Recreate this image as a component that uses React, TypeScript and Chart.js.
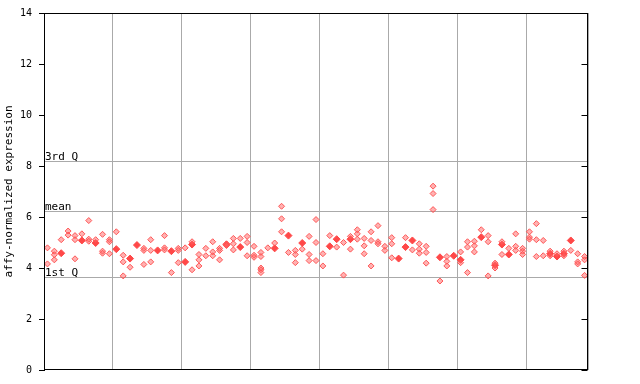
import React, { useEffect, useRef } from 'react';
import { Chart, registerables } from 'chart.js';

Chart.register(...registerables);

const yTicks = [0, 2, 4, 6, 8, 10, 12, 14];
const yTitle = 'affy-normalized expression';
const quartileLabels = ['3rd Q', 'mean', '1st Q'];
const quartileValues = [8.21, 6.22, 3.64];
const columnsPerGroup = 10;

// hollow replicate points per sample column
const replicateValues: number[][] = [
  [4.79, 4.16], [4.66, 4.52, 4.32], [5.11], [5.45, 5.29], [5.27, 5.11, 4.36],
  [5.34], [5.86, 5.13, 5.05], [5.11], [5.32, 4.66, 4.58], [5.11, 5.03, 4.56],
  [5.42], [4.5, 4.24, 3.69], [4.03], [], [4.77, 4.69, 4.14],
  [5.11, 4.69, 4.24], [], [5.27, 4.79, 4.71], [3.82], [4.77, 4.69, 4.21],
  [4.79], [5.03, 3.93], [4.53, 4.32, 4.08], [4.77, 4.48], [5.03, 4.63, 4.48],
  [4.77, 4.69, 4.32], [4.95, 4.88], [5.16, 4.95, 4.71], [5.16], [5.24, 5.0, 4.48],
  [4.85, 4.5, 4.42], [4.61, 4.45, 4.0, 3.93, 3.82], [4.79], [4.98], [6.42, 5.93, 5.42],
  [4.61], [4.69, 4.53, 4.21], [4.74], [5.24, 4.53, 4.29], [5.9, 5.0, 4.29],
  [4.56, 4.08], [5.27], [4.82], [5.0, 3.72], [5.24, 4.74],
  [5.5, 5.34, 5.13], [5.16, 4.87, 4.56], [5.42, 5.08, 4.08], [5.66, 5.03, 4.95], [4.85, 4.69],
  [5.19, 4.95, 4.4], [], [5.19], [4.71], [4.95, 4.74, 4.58],
  [4.85, 4.61, 4.19], [7.21, 6.92, 6.29], [3.49], [4.45, 4.26, 4.08], [],
  [4.63, 4.21], [5.03, 4.82, 3.82], [5.05, 4.87, 4.63], [5.5], [5.27, 5.03, 3.69],
  [4.19, 4.0], [5.03, 4.53], [4.77], [5.34, 4.85, 4.69], [4.77, 4.66, 4.53],
  [5.42, 5.21, 5.13], [5.74, 5.11, 4.45], [5.08, 4.48], [4.66, 4.48], [4.56],
  [4.66, 4.48], [4.69], [4.56, 4.24, 4.16], [4.45, 4.32, 3.71],
];

// solid points per sample column
const highlightValues: (number | null)[] = [
  null, null, 4.58, null, null, 5.08, null, 4.98, null, null,
  4.74, null, 4.37, 4.9, null, null, 4.69, null, 4.66, null,
  4.24, 4.92, null, null, null, null, 4.92, null, 4.82, null,
  null, null, null, 4.77, null, 5.27, null, 4.98, null, null,
  null, 4.85, 5.13, null, 5.13, null, null, null, null, null,
  null, 4.37, 4.82, 5.08, null, null, null, 4.42, null, 4.48,
  4.32, null, null, 5.21, null, 4.11, 4.92, 4.53, null, null,
  null, null, null, 4.56, 4.45, 4.56, 5.08, null, null,
];

const FONT = '"DejaVu Sans Mono", monospace';

export default function App() {
  const ref = useRef<HTMLCanvasElement | null>(null);

  useEffect(() => {
    const n = replicateValues.length;
    const hollow: { x: number; y: number }[] = [];
    replicateValues.forEach((vals, i) => vals.forEach((v) => hollow.push({ x: i, y: v })));
    const filled: { x: number; y: number }[] = [];
    highlightValues.forEach((v, i) => {
      if (v !== null) filled.push({ x: i, y: v });
    });

    const framePlugin = {
      id: 'frame',
      beforeDatasetsDraw(chart: any) {
        const { ctx, chartArea } = chart;
        const ys = chart.scales.y;
        ctx.save();
        ctx.strokeStyle = '#aaaaaa';
        ctx.lineWidth = 1;
        ctx.fillStyle = '#000';
        ctx.font = '11px ' + FONT;
        ctx.textBaseline = 'bottom';
        ctx.textAlign = 'left';
        quartileValues.forEach((q, i) => {
          const y = Math.round(ys.getPixelForValue(q)) + 0.5;
          ctx.beginPath();
          ctx.moveTo(chartArea.left, y);
          ctx.lineTo(chartArea.right, y);
          ctx.stroke();
          ctx.fillText(quartileLabels[i], chartArea.left + 1, y + 1);
        });
        ctx.restore();
      },
      afterDraw(chart: any) {
        const { ctx, chartArea } = chart;
        const ys = chart.scales.y;
        ctx.save();
        ctx.strokeStyle = '#000';
        ctx.lineWidth = 1;
        const l = Math.round(chartArea.left) + 0.5;
        const r = Math.round(chartArea.right) - 0.5;
        const t = Math.round(chartArea.top) + 0.5;
        const b = Math.round(chartArea.bottom) - 0.5;
        ctx.strokeRect(l, t, r - l, b - t);
        yTicks.forEach((v) => {
          const y = Math.round(ys.getPixelForValue(v)) + 0.5;
          ctx.beginPath();
          ctx.moveTo(r - 6, y);
          ctx.lineTo(r, y);
          ctx.stroke();
        });
        ctx.restore();
      },
    };

    const chart = new Chart(ref.current as HTMLCanvasElement, {
      type: 'scatter',
      data: {
        datasets: [
          {
            data: hollow,
            pointStyle: 'rectRot',
            pointRadius: 3,
            backgroundColor: 'rgba(255,100,100,0.5)',
            borderColor: 'rgba(255,80,80,0.95)',
            borderWidth: 1,
          },
          {
            data: filled,
            pointStyle: 'rectRot',
            pointRadius: 3.5,
            backgroundColor: '#ff4848',
            borderColor: '#ff4848',
            borderWidth: 1,
          },
        ],
      },
      options: {
        responsive: false,
        animation: false,
        events: [],
        layout: { padding: { top: 13, right: 52, bottom: 14, left: 0 } },
        plugins: { legend: { display: false }, tooltip: { enabled: false } },
        scales: {
          x: {
            type: 'linear',
            min: -0.5,
            max: n - 0.5,
            afterBuildTicks: (scale: any) => {
              const ticks = [];
              for (let v = -0.5; v < n - 0.5; v += columnsPerGroup) ticks.push({ value: v });
              ticks.push({ value: n - 0.5 });
              scale.ticks = ticks;
            },
            afterFit: (scale: any) => {
              scale.height = 0;
            },
            ticks: { display: false },
            grid: { color: '#aaaaaa', drawTicks: false, lineWidth: 1 },
            border: { display: false },
          },
          y: {
            min: 0,
            max: 14,
            afterBuildTicks: (scale: any) => {
              scale.ticks = yTicks.map((v) => ({ value: v }));
            },
            afterFit: (scale: any) => {
              scale.width = 44;
            },
            ticks: {
              color: '#000',
              font: { family: FONT, size: 10 },
              padding: 7,
            },
            grid: { drawOnChartArea: false, drawTicks: true, tickLength: 5, color: '#000' },
            border: { display: true, color: '#000' },
            title: {
              display: true,
              text: yTitle,
              color: '#000',
              font: { family: FONT, size: 11 },
              padding: { top: 3, bottom: 3 },
            },
          },
        },
      },
      plugins: [framePlugin],
    } as any);

    return () => chart.destroy();
  }, []);

  return (
    <div style={{ position: 'absolute', left: 0, top: 0, width: 640, height: 384, background: '#fff' }}>
      <canvas ref={ref} width={640} height={384} />
    </div>
  );
}
